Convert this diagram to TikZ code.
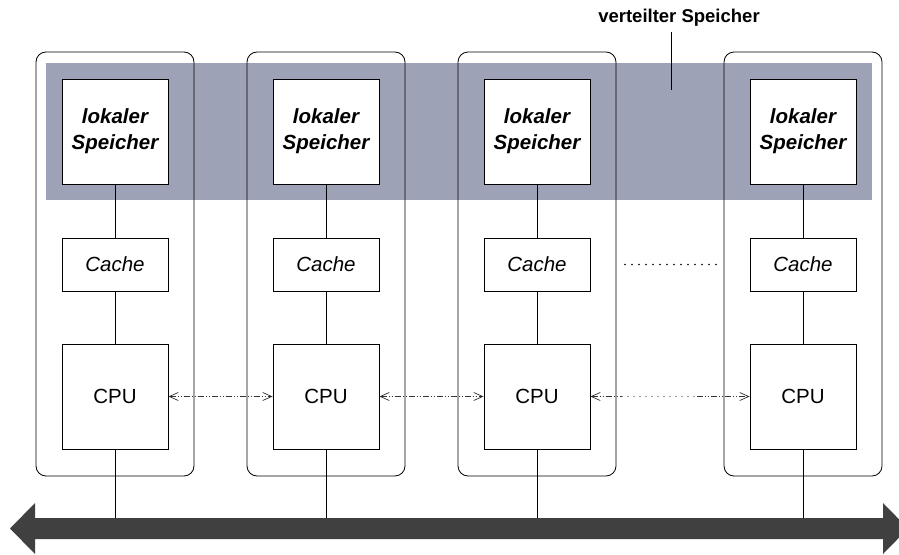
\documentclass[tikz,border=0pt]{standalone}
\usepackage{fontspec}
\setmainfont{Liberation Sans}
\usetikzlibrary{arrows.meta}
\definecolor{bandgrau}{RGB}{157,162,182}
\definecolor{busgrau}{RGB}{64,64,64}

\begin{document}
\begin{tikzpicture}[x=1pt,y=-1pt,
	knoten/.style={draw,line width=0.8pt,rounded corners=10pt,minimum width=158pt,minimum height=424pt,inner sep=0pt},
	speicher/.style={draw,line width=0.8pt,fill=white,minimum width=106pt,minimum height=105pt,inner sep=0pt,align=center,font=\fontsize{20.5}{26}\selectfont\bfseries\itshape},
	cache/.style={draw,line width=0.8pt,fill=white,minimum width=106pt,minimum height=53pt,inner sep=0pt,font=\fontsize{20.5}{25}\selectfont\itshape},
	cpu/.style={draw,line width=0.8pt,fill=white,minimum width=106pt,minimum height=105pt,inner sep=0pt,font=\fontsize{20.5}{25}\selectfont},
	verbindung/.style={line width=0.8pt},
	punkte/.style={line width=1.6pt,line cap=round,dash pattern=on 0pt off 7pt},
	nachricht/.style={line width=0.7pt,draw=black!80,dash pattern=on 6pt off 2pt on 1pt off 2pt on 1pt off 2pt},
	spitze/.style={{Straight Barb[length=9pt,width=8pt]}-{Straight Barb[length=9pt,width=8pt]}}]

		\clip (0,0) rectangle (899,554);
		\useasboundingbox (0,0) rectangle (899,554);

		% grauer Streifen
		\fill[bandgrau] (46,63) rectangle (872,200);

		\node[knoten] (k1) at (115,264) {};
		\node[knoten] (k2) at (326,264) {};
		\node[knoten] (k3) at (537,264) {};
		\node[knoten] (k4) at (803,264) {};

		\node[speicher] (sp1) at (115,131.5) {lokaler\\Speicher};
		\node[speicher] (sp2) at (326,131.5) {lokaler\\Speicher};
		\node[speicher] (sp3) at (537,131.5) {lokaler\\Speicher};
		\node[speicher] (sp4) at (803,131.5) {lokaler\\Speicher};

		\node[cache] (c1) at (115,264.5) {Cache};
		\node[cache] (c2) at (326,264.5) {Cache};
		\node[cache] (c3) at (537,264.5) {Cache};
		\node[cache] (c4) at (803,264.5) {Cache};

		\node[cpu] (p1) at (115,396.5) {CPU};
		\node[cpu] (p2) at (326,396.5) {CPU};
		\node[cpu] (p3) at (537,396.5) {CPU};
		\node[cpu] (p4) at (803,396.5) {CPU};

		% Bus
		\coordinate (busL) at (10,528.5);
		\coordinate (busR) at (908,528.5);
		\coordinate (busO) at (0,518);
		\fill[busgrau] (busL) -- (35,503) -- (35,518) -- (883,518) -- (883,503) -- (busR) -- (883,554) -- (883,539) -- (35,539) -- (35,554) -- cycle;

		\draw[verbindung] (sp1) -- (c1);
		\draw[verbindung] (c1) -- (p1);
		\draw[verbindung] (p1) -- (p1 |- busO);
		\draw[verbindung] (sp2) -- (c2);
		\draw[verbindung] (c2) -- (p2);
		\draw[verbindung] (p2) -- (p2 |- busO);
		\draw[verbindung] (sp3) -- (c3);
		\draw[verbindung] (c3) -- (p3);
		\draw[verbindung] (p3) -- (p3 |- busO);
		\draw[verbindung] (sp4) -- (c4);
		\draw[verbindung] (c4) -- (p4);
		\draw[verbindung] (p4) -- (p4 |- busO);

		% Nachrichten zwischen den CPUs
		\draw[nachricht,spitze] (p1) -- (p2);
		\draw[nachricht,spitze] (p2) -- (p3);
		\coordinate (n1) at (622,396.5);
		\coordinate (n2) at (697,396.5);
		\draw[nachricht,{Straight Barb[length=9pt,width=8pt]}-] (p3) -- (n1);
		\draw[punkte,draw=black!80,line width=1.1pt,dash pattern=on 0pt off 6pt] (n1) -- (n2);
		\draw[nachricht,-{Straight Barb[length=9pt,width=8pt]}] (n2) -- (p4);

		% weitere Knoten
		\coordinate (w1) at (625,264.5);
		\coordinate (w2) at (718,264.5);
		\draw[punkte] (w1) -- (w2);

		\node[font=\fontsize{18.5}{22}\selectfont\bfseries] (vs) at (679,18) {verteilter Speicher};
		\coordinate (zeiger) at (671,90);
		\draw[verbindung] (zeiger |- 0,32) -- (zeiger);
		\end{tikzpicture}
\end{document}
